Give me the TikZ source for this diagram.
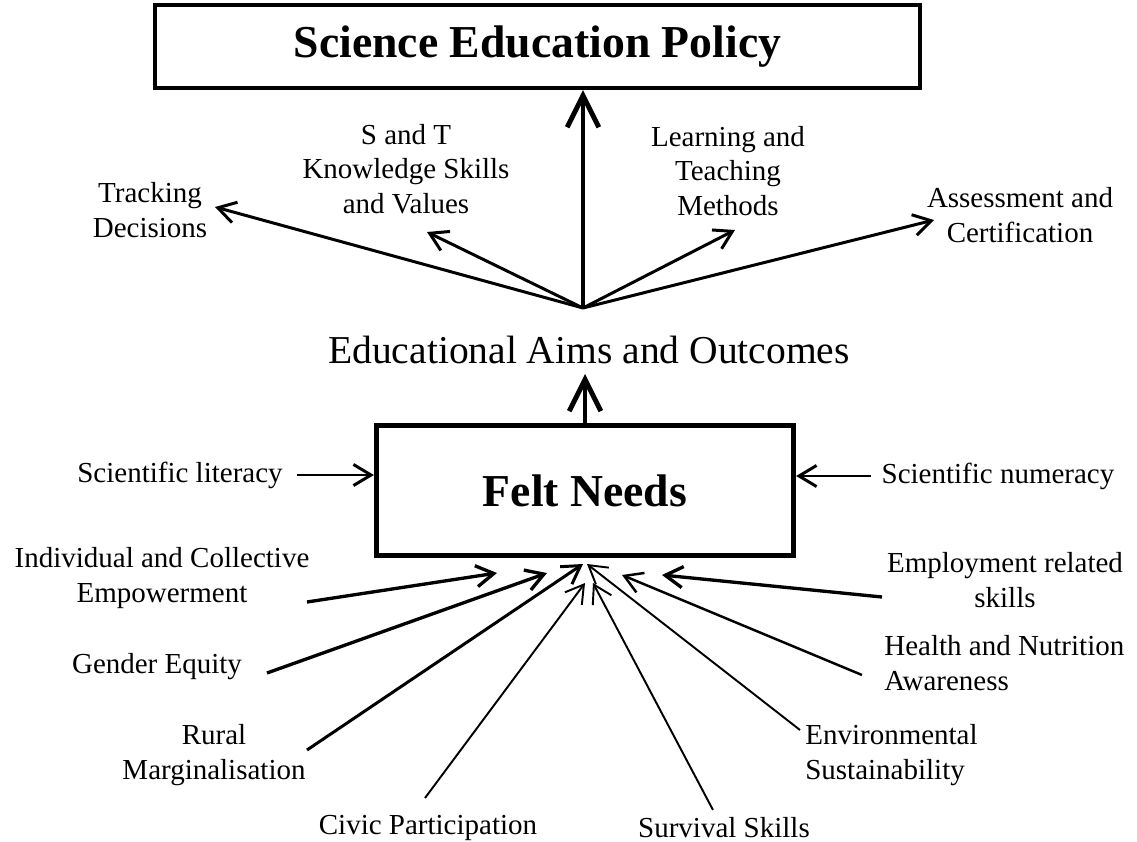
\documentclass[tikz,border=0pt]{standalone}
\usepackage{fontspec}
\setmainfont{Liberation Serif}
\usetikzlibrary{arrows.meta}

\tikzset{
  lbl/.style={inner sep=0pt, align=center, font=\fontsize{16.5}{19.5}\selectfont},
  lbll/.style={lbl, align=left},
  box/.style={draw, line width=2.4pt, inner sep=0pt, font=\bfseries\fontsize{26}{30}\selectfont},
  arr/.style={-{Straight Barb[length=10pt,width=12pt]}, line width=1.7pt},
  thinarr/.style={arr, line width=1.1pt},
  bigarr/.style={-{Straight Barb[length=18pt,width=18pt]}, line width=2.8pt},
}

\begin{document}
\begin{tikzpicture}[x=0.02cm,y=-0.02cm]
    \useasboundingbox (0,0) rectangle (1137,842);

    % the two boxes and the middle text
    \node[box, minimum width=15.3cm, minimum height=1.66cm] (policy) at (537.5,46.5) {Science Education Policy};
    \node[box, line width=3pt, minimum width=8.34cm, minimum height=2.6cm] (felt) at (585,490.5) {Felt Needs};
    \node[inner sep=0pt, font=\fontsize{22.5}{26}\selectfont] (aims) at (589,350) {Educational Aims and Outcomes};

    \coordinate (aims-t) at (585,374);
    \draw[bigarr] (felt.north) -- (aims-t);

    % upper fan
    \coordinate (hub) at (583,308);
    \node[lbl] (track) at (150,210) {Tracking\\Decisions};
    \node[lbl] (sandt) at (406,169) {S and T\\Knowledge Skills\\and Values};
    \node[lbl] (learn) at (728,171) {Learning and\\Teaching\\Methods};
    \node[lbl] (assess) at (1020,215) {Assessment and\\Certification};

    \coordinate (track-t) at (215,207);
    \coordinate (sandt-t) at (427,232);
    \coordinate (learn-t) at (735,230);
    \coordinate (assess-t) at (934,220);

    \draw[arr] (hub) -- (track-t);
    \draw[arr] (hub) -- (sandt-t);
    \draw[bigarr] (hub) -- (hub |- policy.south);
    \draw[arr] (hub) -- (learn-t);
    \draw[arr] (hub) -- (assess-t);

    % side inputs
    \node[lbl] (lit) at (180,475) {Scientific literacy};
    \node[lbl] (num) at (998,476) {Scientific numeracy};
    \draw[arr] ([xshift=0.28cm]lit.east) -- (lit.east -| felt.west);
    \draw[arr] ([xshift=-0.2cm]num.west) -- (num.west -| felt.east);

    % lower fan
    \node[lbl] (ind) at (162,578) {Individual and Collective\\Empowerment};
    \node[lbl] (gender) at (157,667) {Gender Equity};
    \node[lbl] (rural) at (214,755) {Rural\\Marginalisation};
    \node[lbl] (civic) at (428,828) {Civic Participation};
    \node[lbl] (surv) at (724,828) {Survival Skills};
    \node[lbll, anchor=west] (env) at (805,755) {Environmental\\Sustainability};
    \node[lbll, anchor=west] (health) at (884,663) {Health and Nutrition\\Awareness};
    \node[lbl] (employ) at (1005,580) {Employment related\\skills};

    \coordinate (ind-s) at (307,602);     \coordinate (ind-t) at (497,573);
    \coordinate (gender-s) at (267,673);  \coordinate (gender-t) at (547,573);
    \coordinate (rural-s) at (307,750);   \coordinate (rural-t) at (583,564);
    \coordinate (civic-s) at (425,798);   \coordinate (civic-t) at (585,583);
    \coordinate (surv-s) at (713,810);    \coordinate (surv-t) at (593,583);
    \coordinate (env-s) at (800,730);     \coordinate (env-t) at (587,564);
    \coordinate (health-s) at (862,675);  \coordinate (health-t) at (622,575);
    \coordinate (employ-s) at (882,597);  \coordinate (employ-t) at (662,575);

    \draw[arr, line width=1.9pt] (ind-s) -- (ind-t);
    \draw[arr, line width=1.9pt] (gender-s) -- (gender-t);
    \draw[arr] (rural-s) -- (rural-t);
    \draw[thinarr] (civic-s) -- (civic-t);
    \draw[thinarr] (surv-s) -- (surv-t);
    \draw[thinarr] (env-s) -- (env-t);
    \draw[arr, line width=1.4pt] (health-s) -- (health-t);
    \draw[arr, line width=1.9pt] (employ-s) -- (employ-t);
\end{tikzpicture}
\end{document}
